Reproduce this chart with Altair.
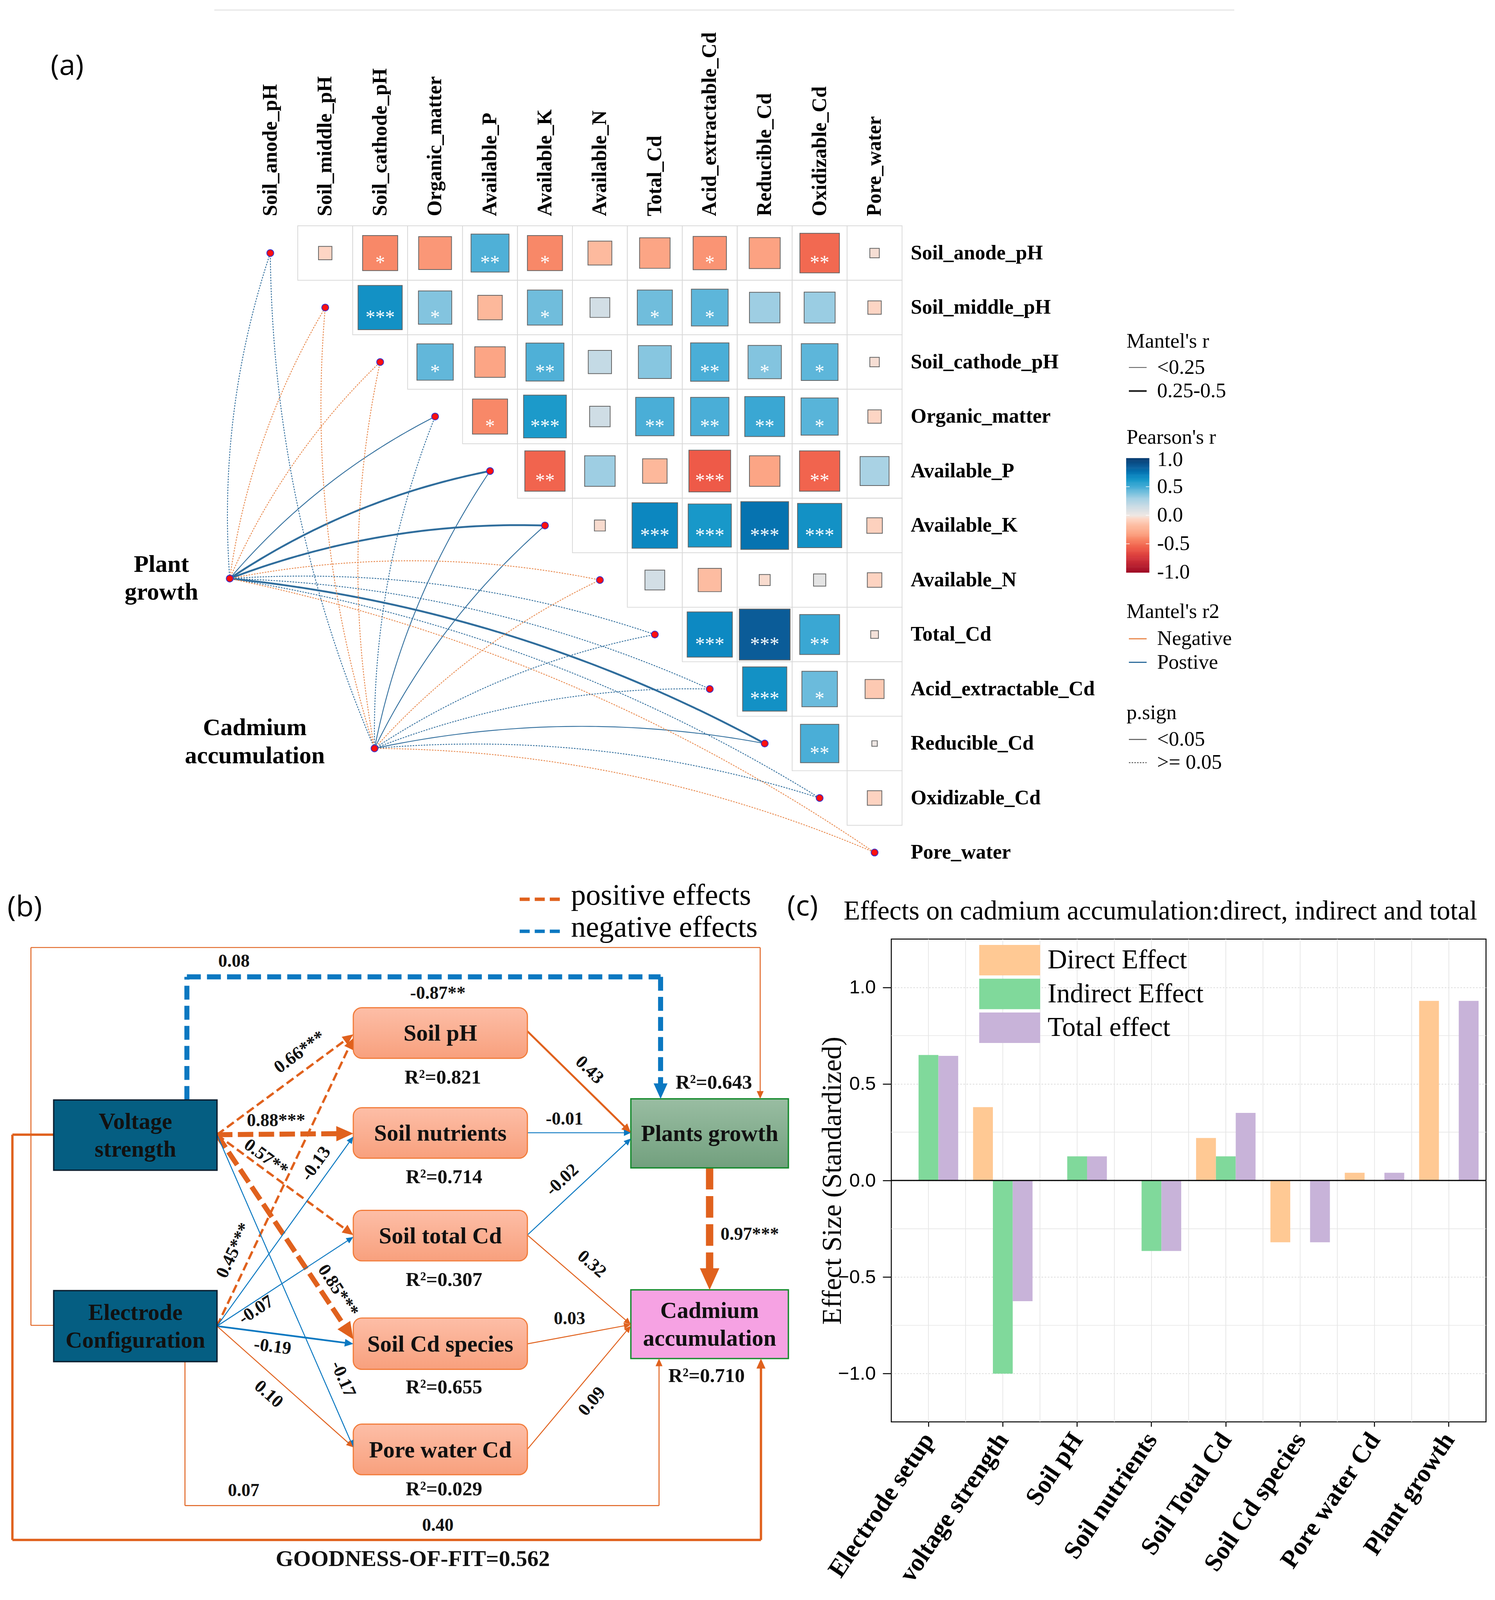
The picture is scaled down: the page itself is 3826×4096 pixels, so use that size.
import altair as alt
import numpy as np
import pandas as pd

F = 0.988                      # reference px -> window px
X0, Y0 = 8.0, 8.0              # reference px hidden under the page margin
A_W, A_H = 3810, 2396
Y_SPLIT = Y0 + A_H / F
B_W, B_H = 2273, 1684
C_W, C_H = 1522, 1236

SERIF = "Liberation Serif"
SANS = "Open Sans"
ARIAL = "Liberation Sans"

# ============================ DATA ============================
# ---- panel (a): Pearson correlation (upper triangle, row i -> columns i+1..)
variables = ["Soil_anode_pH", "Soil_middle_pH", "Soil_cathode_pH", "Organic_matter",
             "Available_P", "Available_K", "Available_N", "Total_Cd",
             "Acid_extractable_Cd", "Reducible_Cd", "Oxidizable_Cd", "Pore_water"]
pearson_r = [
    [-0.06, -0.41, -0.36, 0.48, -0.41, -0.19, -0.31, -0.37, -0.32, -0.52, -0.03],
    [0.65, 0.37, -0.20, 0.41, 0.13, 0.41, 0.45, 0.31, 0.32, -0.06],
    [0.44, -0.31, 0.48, 0.18, 0.36, 0.49, 0.37, 0.45, -0.03],
    [-0.41, 0.61, 0.14, 0.49, 0.49, 0.53, 0.46, -0.06],
    [-0.54, 0.31, -0.20, -0.58, -0.31, -0.54, 0.28],
    [-0.04, 0.69, 0.62, 0.76, 0.65, -0.08],
    [0.13, -0.18, -0.04, 0.05, -0.07],
    [0.68, 0.86, 0.53, -0.02],
    [0.65, 0.42, -0.12],
    [0.49, 0.01],
    [-0.07],
]
pearson_sig = [
    ["", "*", "", "**", "*", "", "", "*", "", "**", ""],
    ["***", "*", "", "*", "", "*", "*", "", "", ""],
    ["*", "", "**", "", "", "**", "*", "*", ""],
    ["*", "***", "", "**", "**", "**", "*", ""],
    ["**", "", "", "***", "", "**", ""],
    ["", "***", "***", "***", "***", ""],
    ["", "", "", "", ""],
    ["***", "***", "**", ""],
    ["***", "*", ""],
    ["**", ""],
    [""],
]
env_names = ["Plant growth", "Cadmium accumulation"]
env_label_lines = [["Plant", "growth"], ["Cadmium", "accumulation"]]
mantel_sign = [
    ["Postive", "Negative", "Negative", "Postive", "Postive", "Postive",
     "Negative", "Postive", "Postive", "Postive", "Postive", "Negative"],
    ["Postive", "Negative", "Negative", "Postive", "Postive", "Postive",
     "Negative", "Postive", "Postive", "Postive", "Postive", "Negative"],
]
mantel_r_class = [
    ["<0.25", "<0.25", "<0.25", "<0.25", "0.25-0.5", "0.25-0.5",
     "<0.25", "<0.25", "<0.25", "0.25-0.5", "<0.25", "<0.25"],
    ["<0.25", "<0.25", "<0.25", "<0.25", "<0.25", "<0.25",
     "<0.25", "<0.25", "<0.25", "<0.25", "<0.25", "<0.25"],
]
mantel_p_class = [
    [">= 0.05", ">= 0.05", ">= 0.05", "<0.05", "<0.05", "<0.05",
     ">= 0.05", ">= 0.05", ">= 0.05", "<0.05", ">= 0.05", ">= 0.05"],
    [">= 0.05", ">= 0.05", ">= 0.05", ">= 0.05", "<0.05", "<0.05",
     ">= 0.05", ">= 0.05", ">= 0.05", "<0.05", ">= 0.05", ">= 0.05"],
]
colorbar_ticks = [1.0, 0.5, 0.0, -0.5, -1.0]

# ---- panel (b): structural equation model
sem_nodes = ["V", "E", "pH", "SN", "STC", "SCS", "PWC", "PG", "CA"]
sem_node_text = [["Voltage", "strength"], ["Electrode", "Configuration"], ["Soil pH"],
                 ["Soil nutrients"], ["Soil total Cd"], ["Soil Cd species"],
                 ["Pore water Cd"], ["Plants growth"], ["Cadmium", "accumulation"]]
sem_r2 = ["", "", "0.821", "0.714", "0.307", "0.655", "0.029", "0.643", "0.710"]
path_from = ["V", "V", "V", "V", "V", "E", "E", "E", "E", "E", "pH", "SN", "STC",
             "STC", "SCS", "PWC", "PG", "V", "E", "E", "V"]
path_to = ["pH", "SN", "STC", "SCS", "PWC", "pH", "SN", "STC", "SCS", "PWC", "PG", "PG",
           "PG", "CA", "CA", "CA", "CA", "PG", "PG", "CA", "CA"]
path_coef = ["0.66***", "0.88***", "0.57**", "0.85***", "-0.17", "0.45***", "-0.13",
             "-0.07", "-0.19", "0.10", "0.43", "-0.01", "-0.02", "0.32", "0.03", "0.09",
             "0.97***", "-0.87**", "0.08", "0.07", "0.40"]
goodness_of_fit = "0.562"

# ---- panel (c): effects on cadmium accumulation
effect_cats = ["Electrode setup", "voltage strength", "Soil pH", "Soil nutrients",
               "Soil Total Cd", "Soil Cd species", "Pore water Cd", "Plant growth"]
effect_types = ["Direct Effect", "Indirect Effect", "Total effect"]
direct_eff = [0.0, 0.38, 0.0, 0.0, 0.22, -0.32, 0.04, 0.93]
indirect_eff = [0.65, -1.0, 0.125, -0.365, 0.125, 0.0, 0.0, 0.0]
total_eff = [0.645, -0.625, 0.125, -0.365, 0.35, -0.32, 0.04, 0.93]
effect_colors = ["#FFC994", "#80D99B", "#C8B3D9"]

# ============================ LAYOUT (reference px) ============================
GX0, GSX, GY0, GSY = 700.0, 142.3, 655.6, 141.2
ENV_XY = [(595, 1499), (970, 1939)]
ENV_LABEL_XY = [(418, 1462), (660, 1886)]
ROW_LABEL_X, COL_LABEL_Y = 2359, 560
ORANGE_A, BLUE_A = "#e8874a", "#2f6d9c"
FILL_DOMAIN = [-1.0, -0.75, -0.58, -0.5, -0.41, -0.31, -0.2, -0.06, 0.0,
               0.13, 0.3, 0.4, 0.5, 0.62, 0.7, 0.78, 0.86, 1.0]
FILL_RANGE = ["#9e0b25", "#d3343a", "#ee5a48", "#f36e54", "#f88868", "#fca585", "#fdb89b",
              "#fdd5c4", "#efe7e3", "#d2dee5", "#a3d0e4", "#75bfdd", "#45acd6", "#1898c9",
              "#0a84bf", "#046dab", "#0b5c98", "#063a70"]
CB_X, CB_W, CB_TOP, CB_LEN = 2917, 60, 1187, 296
LEG_X, LEG_LINE = 2997, (2924, 2970)

BOX = {"V": (139, 562, 2850, 3032), "E": (139, 562, 3344, 3528),
       "pH": (915, 1366, 2611, 2742), "SN": (915, 1366, 2870, 3001),
       "STC": (915, 1366, 3136, 3267), "SCS": (915, 1366, 3415, 3548),
       "PWC": (915, 1366, 3690, 3821), "PG": (1634, 2042, 2847, 3026),
       "CA": (1634, 2042, 3342, 3520)}
BOX_STYLE = {"V": "dark", "E": "dark", "pH": "mid", "SN": "mid", "STC": "mid", "SCS": "mid",
             "PWC": "mid", "PG": "green", "CA": "pink"}
R2_XY = {"pH": (1147, 2792), "SN": (1150, 3051), "STC": (1150, 3317), "SCS": (1150, 3595),
         "PWC": (1150, 3859), "PG": (1849, 2806), "CA": (1830, 3566)}
ORANGE_B, BLUE_B = "#e0611d", "#0b78c1"
# route points, label xy, label follows line, line width, dash, arrow length
EDGE_GEOM = [
    ([(562, 2940), (915, 2680)], (776, 2726), True, 6, (22, 10), 28),
    ([(562, 2940), (915, 2937)], (715, 2904), False, 13, (40, 14), 44),
    ([(562, 2940), (915, 3200)], (689, 2999), True, 6, (22, 10), 28),
    ([(562, 2940), (915, 3470)], (876, 3344), True, 13, (40, 14), 44),
    ([(562, 2940), (915, 3750)], (889, 3573), True, 2.5, None, 18),
    ([(562, 3436), (915, 2690)], (605, 3240), True, 6, (22, 10), 28),
    ([(562, 3436), (915, 2945)], (818, 3015), True, 2.5, None, 18),
    ([(562, 3436), (915, 3205)], (663, 3394), True, 2.5, None, 18),
    ([(562, 3436), (915, 3482)], (706, 3489), True, 4.5, None, 22),
    ([(562, 3436), (915, 3750)], (696, 3612), True, 2.5, None, 18),
    ([(1366, 2672), (1634, 2935)], (1527, 2772), True, 5, None, 24),
    ([(1366, 2935), (1634, 2935)], (1462, 2900), False, 2.5, None, 18),
    ([(1366, 3200), (1634, 2950)], (1456, 3057), True, 2.5, None, 18),
    ([(1366, 3200), (1634, 3432)], (1533, 3275), True, 2.5, None, 18),
    ([(1366, 3482), (1634, 3432)], (1475, 3417), False, 2.5, None, 18),
    ([(1366, 3755), (1634, 3435)], (1533, 3631), True, 2.5, None, 18),
    ([(1838, 3026), (1838, 3342)], (1942, 3198), False, 19, (56, 17), 56),
    ([(484, 2850), (484, 2531), (1711, 2531), (1711, 2847)], (1134, 2574), False, 13, (36, 16), 40),
    ([(139, 3434), (80, 3434), (80, 2455), (1969, 2455), (1969, 2847)], (606, 2491), False, 2.5, None, 20),
    ([(479, 3528), (479, 3901), (1707, 3901), (1707, 3520)], (631, 3862), False, 2.5, None, 20),
    ([(139, 2940), (32, 2940), (32, 3990), (1971, 3990), (1971, 3520)], (1134, 3952), False, 6, None, 26),
]

# ============================ HELPERS ============================
sxA = alt.Scale(domain=[X0, X0 + A_W / F], nice=False, zero=False)
syA = alt.Scale(domain=[Y0, Y_SPLIT], nice=False, zero=False, reverse=True)
sxB = alt.Scale(domain=[X0, X0 + B_W / F], nice=False, zero=False)
syB = alt.Scale(domain=[Y_SPLIT, Y_SPLIT + B_H / F], nice=False, zero=False, reverse=True)


def P(sx, sy, xf="x", yf="y"):
    return dict(x=alt.X(f"{xf}:Q", scale=sx, axis=None),
                y=alt.Y(f"{yf}:Q", scale=sy, axis=None))


def texts(rows, sx, sy, rotate=False, **mk):
    enc = P(sx, sy)
    enc["text"] = alt.Text("t:N")
    if rotate:
        enc["angle"] = alt.Angle("a:Q", scale=None)
    return alt.Chart(pd.DataFrame(rows)).mark_text(**mk).encode(**enc)


def segments(rows, sx, sy, dash=None):
    mk = dict(strokeCap="butt")
    if dash is not None:
        mk["strokeDash"] = dash
    return alt.Chart(pd.DataFrame(rows)).mark_rule(**mk).encode(
        **P(sx, sy), x2="x2:Q", y2="y2:Q",
        color=alt.Color("c:N", scale=None),
        strokeWidth=alt.StrokeWidth("w:Q", scale=None))


def arc(p0, p1, k=0.05, n=48):
    (x0, y0), (x1, y1) = p0, p1
    dx, dy = x1 - x0, y1 - y0
    L = float(np.hypot(dx, dy))
    nx, ny = dy / L, -dx / L
    cx = (x0 + x1) / 2 + nx * 2 * k * L
    cy = (y0 + y1) / 2 + ny * 2 * k * L
    t = np.linspace(0, 1, n)
    xs = (1 - t) ** 2 * x0 + 2 * t * (1 - t) * cx + t ** 2 * x1
    ys = (1 - t) ** 2 * y0 + 2 * t * (1 - t) * cy + t ** 2 * y1
    return xs, ys


fill_scale = alt.Scale(domain=FILL_DOMAIN, range=FILL_RANGE, interpolate="rgb")

# ============================ PANEL A ============================
LA = []
LA.append(segments([dict(x=555, y=26, x2=3197, y2=26, c="#e6e6e6", w=3 * F)], sxA, syA))

cell_rows = []
for i, row in enumerate(pearson_r):
    for k, r in enumerate(row):
        j = i + 1 + k
        cx, cy = GX0 + GSX * j, GY0 + GSY * i
        cell_rows.append(dict(x=cx - GSX / 2, x2=cx + GSX / 2, y=cy - GSY / 2, y2=cy + GSY / 2,
                              cx=cx, cy=cy, sy=cy + 41, r=r, ar=abs(r), t=pearson_sig[i][k]))
cdf = pd.DataFrame(cell_rows)
LA.append(alt.Chart(cdf).mark_rect(fill="white", stroke="#d9d9d9", strokeWidth=2 * F).encode(
    **P(sxA, syA), x2="x2:Q", y2="y2:Q"))
LA.append(alt.Chart(cdf).mark_square(opacity=1, stroke="#646464", strokeWidth=2 * F).encode(
    **P(sxA, syA, "cx", "cy"),
    fill=alt.Fill("r:Q", scale=fill_scale, legend=None),
    size=alt.Size("ar:Q", scale=alt.Scale(domain=[0, 1], range=[0, (142 * F) ** 2]), legend=None)))
LA.append(alt.Chart(cdf).mark_text(font=SERIF, fontSize=50, color="white", baseline="alphabetic").encode(
    **P(sxA, syA, "cx", "sy"), text="t:N"))

link_rows = []
for e, (ex, ey) in enumerate(ENV_XY):
    for j in range(len(variables)):
        xs, ys = arc((ex, ey), (GX0 + GSX * j, GY0 + GSY * j))
        col = ORANGE_A if mantel_sign[e][j] == "Negative" else BLUE_A
        w = (2.2 if mantel_r_class[e][j] == "<0.25" else 4.8) * F
        for o, (px_, py_) in enumerate(zip(xs, ys)):
            link_rows.append(dict(id=f"{e}-{j}", o=o, x=px_, y=py_, c=col, w=w,
                                  p=mantel_p_class[e][j]))
ldf = pd.DataFrame(link_rows)
for pcl, dash in [("<0.05", None), (">= 0.05", [4, 3])]:
    mk = dict(strokeCap="butt")
    if dash:
        mk["strokeDash"] = dash
    LA.append(alt.Chart(ldf[ldf.p == pcl]).mark_line(**mk).encode(
        **P(sxA, syA), detail="id:N", order="o:Q",
        color=alt.Color("c:N", scale=None), strokeWidth=alt.StrokeWidth("w:Q", scale=None)))

node_rows = [dict(x=GX0 + GSX * j, y=GY0 + GSY * j) for j in range(len(variables))]
node_rows += [dict(x=ex, y=ey) for ex, ey in ENV_XY]
LA.append(alt.Chart(pd.DataFrame(node_rows)).mark_circle(
    color="#ff1010", opacity=1, stroke="#3030d0", strokeWidth=2 * F, size=(18 * F) ** 2).encode(**P(sxA, syA)))

LA.append(texts([dict(x=GX0 + GSX * j, y=COL_LABEL_Y, t=v) for j, v in enumerate(variables)], sxA, syA,
                angle=270, align="left", baseline="middle", font=SERIF, fontWeight="bold", fontSize=52))
LA.append(texts([dict(x=ROW_LABEL_X, y=GY0 + GSY * i, t=v) for i, v in enumerate(variables)], sxA, syA,
                align="left", baseline="middle", font=SERIF, fontWeight="bold", fontSize=52))
env_rows = []
for (lx, ly), lines in zip(ENV_LABEL_XY, env_label_lines):
    for k, s in enumerate(lines):
        env_rows.append(dict(x=lx, y=ly + 72 * k, t=s))
LA.append(texts(env_rows, sxA, syA, align="center", baseline="middle", font=SERIF,
                fontWeight="bold", fontSize=62))
LA.append(texts([dict(x=174, y=172, t="(a)"), dict(x=64, y=2352, t="(b)"), dict(x=2079, y=2350, t="(c)")],
                sxA, syA, align="center", baseline="middle", font=SANS, fontSize=74))

# legends of panel (a)
leg_text = [dict(x=2918, y=885, t="Mantel's r"), dict(x=LEG_X, y=952, t="<0.25"),
            dict(x=LEG_X, y=1013, t="0.25-0.5"), dict(x=2918, y=1134, t="Pearson's r"),
            dict(x=2918, y=1585, t="Mantel's r2"), dict(x=LEG_X, y=1655, t="Negative"),
            dict(x=LEG_X, y=1716, t="Postive"), dict(x=2918, y=1847, t="p.sign"),
            dict(x=LEG_X, y=1916, t="<0.05"), dict(x=LEG_X, y=1976, t=">= 0.05")]
leg_text += [dict(x=LEG_X, y=CB_TOP + (1 - v) / 2 * CB_LEN + (4 if v == 1.0 else 0), t=f"{v:.1f}")
             for v in colorbar_ticks]
LA.append(texts(leg_text, sxA, syA, align="left", baseline="middle", font=SERIF, fontSize=53))
lx0, lx1 = LEG_LINE
LA.append(segments([dict(x=lx0, x2=lx1, y=952, y2=952, c="#555555", w=2 * F),
                    dict(x=lx0, x2=lx1, y=1013, y2=1013, c="#222222", w=4.5 * F),
                    dict(x=lx0, x2=lx1, y=1655, y2=1655, c=ORANGE_A, w=3 * F),
                    dict(x=lx0, x2=lx1, y=1716, y2=1716, c=BLUE_A, w=3 * F),
                    dict(x=lx0, x2=lx1, y=1916, y2=1916, c="#555555", w=2.5 * F)], sxA, syA))
LA.append(segments([dict(x=lx0, x2=lx1, y=1976, y2=1976, c="#555555", w=2.5 * F)], sxA, syA, dash=[4, 3]))
cb_vals = np.round(np.arange(-1.0, 1.0, 0.01), 3)
cb_rows = [dict(x=CB_X, x2=CB_X + CB_W, y=CB_TOP + (1 - (v + 0.01)) / 2 * CB_LEN,
                y2=CB_TOP + (1 - v) / 2 * CB_LEN + 0.6, r=float(v + 0.005)) for v in cb_vals]
LA.append(alt.Chart(pd.DataFrame(cb_rows)).mark_rect(strokeWidth=0).encode(
    **P(sxA, syA), x2="x2:Q", y2="y2:Q", fill=alt.Fill("r:Q", scale=fill_scale, legend=None)))
tick_rows = []
for v in [0.5, 0.0, -0.5]:
    yy = CB_TOP + (1 - v) / 2 * CB_LEN
    tick_rows += [dict(x=CB_X, x2=CB_X + 9, y=yy, y2=yy, c="white", w=1.5 * F),
                  dict(x=CB_X + CB_W - 9, x2=CB_X + CB_W, y=yy, y2=yy, c="white", w=1.5 * F)]
LA.append(segments(tick_rows, sxA, syA))

# legend of panel (b) and title of panel (c)
LA.append(segments([dict(x=1346, x2=1462, y=2330, y2=2330, c=ORANGE_B, w=9 * F),
                    dict(x=1346, x2=1462, y=2413, y2=2413, c=BLUE_B, w=9 * F)], sxA, syA,
                   dash=[26 * F, 13 * F]))
LA.append(texts([dict(x=1479, y=2321, t="positive effects"), dict(x=1479, y=2404, t="negative effects")],
                sxA, syA, align="left", baseline="middle", font=SERIF, fontSize=76))
LA.append(texts([dict(x=2185, y=2361, t="Effects on cadmium accumulation:direct, indirect and total")],
                sxA, syA, align="left", baseline="middle", font=SERIF, fontSize=69))

A = alt.layer(*LA).properties(width=A_W, height=A_H)

# ============================ PANEL B ============================
LB = []
seg_groups = {}
arrow_rows, lab_rows = [], []
for k, (pts, lxy, follow, w, dash, alen) in enumerate(EDGE_GEOM):
    col = BLUE_B if path_coef[k].startswith("-") else ORANGE_B
    pts = [tuple(map(float, p)) for p in pts]
    (xa, ya), (xb, yb) = pts[-2], pts[-1]
    L = float(np.hypot(xb - xa, yb - ya))
    ux, uy = (xb - xa) / L, (yb - ya) / L
    ang = float(np.degrees(np.arctan2(yb - ya, xb - xa))) % 360
    draw = pts[:-1] + [(xb - ux * alen * 0.6, yb - uy * alen * 0.6)]
    for (p0, p1) in zip(draw[:-1], draw[1:]):
        seg_groups.setdefault(dash, []).append(dict(x=p0[0], y=p0[1], x2=p1[0], y2=p1[1], c=col, w=w * F))
    arrow_rows.append(dict(x=xb, y=yb, a=ang, s=(alen * F) ** 2, c=col))
    la = 0.0
    if follow:
        (x0_, y0_), (x1_, y1_) = pts[0], pts[1]
        la = float(np.degrees(np.arctan2(y1_ - y0_, x1_ - x0_))) % 360
    lab_rows.append(dict(x=lxy[0], y=lxy[1], t=path_coef[k], a=la))
for dash, rows in seg_groups.items():
    LB.append(segments(rows, sxB, syB, dash=None if dash is None else [dash[0] * F, dash[1] * F]))

box_rows = {}
for name in sem_nodes:
    l, r, t, b = BOX[name]
    box_rows.setdefault(BOX_STYLE[name], []).append(dict(x=l, x2=r, y=t, y2=b))
box_marks = {
    "dark": dict(fill="#055e82", stroke="#0a1f30", strokeWidth=3.5 * F),
    "mid": dict(fill=alt.Gradient(gradient="linear", x1=0, x2=0, y1=0, y2=1,
                                  stops=[alt.GradientStop(color="#fdbea7", offset=0),
                                         alt.GradientStop(color="#f8a07d", offset=1)]),
                stroke="#f27c3a", strokeWidth=3 * F, cornerRadius=22 * F),
    "green": dict(fill=alt.Gradient(gradient="linear", x1=0, x2=0, y1=0, y2=1,
                                    stops=[alt.GradientStop(color="#99bda2", offset=0),
                                           alt.GradientStop(color="#72a07e", offset=1)]),
                  stroke="#168a2e", strokeWidth=3.5 * F),
    "pink": dict(fill="#f6a2e3", stroke="#168a2e", strokeWidth=3.5 * F),
}
for style, rows in box_rows.items():
    LB.append(alt.Chart(pd.DataFrame(rows)).mark_rect(**box_marks[style]).encode(
        **P(sxB, syB), x2="x2:Q", y2="y2:Q"))

LB.append(alt.Chart(pd.DataFrame(arrow_rows)).mark_point(
    shape="M0,0L-2,-0.9L-2,0.9Z", filled=True, opacity=1, strokeWidth=0).encode(
    **P(sxB, syB), angle=alt.Angle("a:Q", scale=None), size=alt.Size("s:Q", scale=None),
    color=alt.Color("c:N", scale=None)))

node_txt = []
for name, lines in zip(sem_nodes, sem_node_text):
    l, r, t, b = BOX[name]
    cx, cy = (l + r) / 2, (t + b) / 2 + 2
    n = len(lines)
    for k, s in enumerate(lines):
        node_txt.append(dict(x=cx, y=cy + (k - (n - 1) / 2) * 72, t=s))
LB.append(texts(node_txt, sxB, syB, align="center", baseline="middle", font=SERIF,
                fontWeight="bold", fontSize=59, color="#111111"))
r2_rows = [dict(x=R2_XY[n][0], y=R2_XY[n][1], t=f"R\u00b2={v}") for n, v in zip(sem_nodes, sem_r2) if v]
LB.append(texts(r2_rows, sxB, syB, align="center", baseline="middle", font=SERIF,
                fontWeight="bold", fontSize=51, color="#111111"))
LB.append(texts(lab_rows, sxB, syB, rotate=True, align="center", baseline="middle", font=SERIF,
                fontWeight="bold", fontSize=46, color="#111111"))
LB.append(texts([dict(x=1069, y=4040, t=f"GOODNESS-OF-FIT={goodness_of_fit}")], sxB, syB,
                align="center", baseline="middle", font=SERIF, fontWeight="bold", fontSize=58,
                color="#111111"))

B = alt.layer(*LB).properties(width=B_W, height=B_H)

# ============================ PANEL C ============================
bar_rows = []
for i, c in enumerate(effect_cats):
    for t, vals in zip(effect_types, [direct_eff, indirect_eff, total_eff]):
        bar_rows.append({"cat": c, "type": t, "v": vals[i]})
bdf = pd.DataFrame(bar_rows)
ysc = alt.Scale(domain=[-1.25, 1.25], nice=False, zero=False)
yaxis = alt.Axis(values=[-1.0, -0.5, 0.0, 0.5, 1.0], format=".1f", labelFont=ARIAL, labelFontSize=49,
                 labelColor="black", labelPadding=18, tickSize=22, tickWidth=2.5, tickColor="black",
                 domain=False, grid=True, gridColor="#d0d0d0", gridDash=[4, 4], gridWidth=1.6,
                 title="Effect Size (Standardized)", titleFont=SERIF, titleFontSize=70,
                 titleFontWeight="normal", titleColor="black", titleX=-151, titleY=C_H / 2,
                 titleAngle=270, titleAlign="center", titleBaseline="middle")
yenc = alt.Y("v:Q", scale=ysc, axis=yaxis, stack=None)

vgrid = alt.Chart(pd.DataFrame({"g": [0.5 * k for k in range(1, 16)]})).mark_rule(
    color="#e2e2e2", strokeWidth=1.6).encode(
    x=alt.X("g:Q", scale=alt.Scale(domain=[0, 8], nice=False, zero=False), axis=None))
hgrid = alt.Chart(pd.DataFrame({"v": [-0.75, -0.25, 0.25, 0.75]})).mark_rule(
    color="#e6e6e6", strokeWidth=1.6).encode(y=yenc)
bars = alt.Chart(bdf).mark_bar().encode(
    x=alt.X("cat:N", sort=effect_cats, scale=alt.Scale(paddingInner=0.2, paddingOuter=0.1),
            axis=alt.Axis(title=None, labelAngle=-56, labelAlign="right", labelBaseline="middle",
                          labelFont=SERIF, labelFontWeight="bold", labelFontSize=65,
                          labelColor="black", labelPadding=22, labelLimit=0, tickSize=12,
                          tickWidth=2.5, tickColor="black", domain=False, grid=False)),
    xOffset=alt.XOffset("type:N", sort=effect_types),
    y=yenc,
    color=alt.Color("type:N", sort=effect_types,
                    scale=alt.Scale(domain=effect_types, range=effect_colors),
                    legend=alt.Legend(orient="none", legendX=225, legendY=12, title=None,
                                      symbolType="M-1,-0.5H1V0.5H-1Z", symbolSize=156 ** 2,
                                      symbolStrokeWidth=0, symbolOpacity=1, labelFont=SERIF,
                                      labelFontSize=69, labelColor="black", labelOffset=19,
                                      clipHeight=84, rowPadding=2.5, padding=0, labelLimit=0)))
zero = alt.Chart(pd.DataFrame({"v": [0.0]})).mark_rule(color="black", strokeWidth=3).encode(y=yenc)

C = alt.layer(vgrid, hgrid, bars, zero).resolve_scale(x="independent").properties(
    width=C_W, height=C_H, view=alt.ViewBackground(stroke="black", strokeWidth=2.5 * F))

bottom = alt.hconcat(B, C, spacing=0, bounds="flush").resolve_scale(
    x="independent", y="independent", color="independent")
chart = alt.vconcat(A, bottom, spacing=0, bounds="flush").resolve_scale(
    x="independent", y="independent", color="independent", fill="independent",
    size="independent").properties(padding=0).configure_view(strokeWidth=0)

chart.save("out.html", embed_options={"renderer": "svg", "actions": False})
